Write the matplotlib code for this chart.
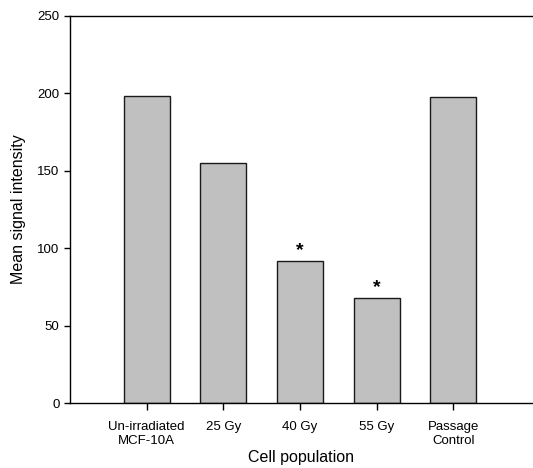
import matplotlib
matplotlib.use("Agg")
import matplotlib.pyplot as plt

plt.rcParams['font.family'] = ['Liberation Sans', 'DejaVu Sans']

categories = ["Un-irradiated\nMCF-10A", "25 Gy", "40 Gy", "55 Gy", "Passage\nControl"]
values = [198.5, 155, 92, 68, 197.5]
significant = [False, False, True, True, False]
yticks = [0, 50, 100, 150, 200, 250]

fig = plt.figure(figsize=(5.33, 4.68), dpi=100)
ax = fig.add_axes([70 / 533, 1 - 403 / 468, 1 - 70 / 533, 387 / 468])

x = list(range(1, len(categories) + 1))
ax.bar(x, values, width=0.6, color="#c0c0c0", edgecolor="#1a1a1a", linewidth=1.0)

for xi, v, s in zip(x, values, significant):
    if s:
        ax.text(xi, v + 1, "*", ha="center", va="bottom", fontsize=14, fontweight="bold")

ax.set_xlim(0, 6.04)
ax.set_ylim(0, 250)
ax.set_yticks(yticks)
ax.set_xticks(x)
ax.set_xticklabels(categories, fontsize=9.5)
ax.tick_params(axis="y", labelsize=9.5, direction="out", length=4, width=1)
ax.tick_params(axis="x", direction="out", length=5, width=1, pad=8)
ax.spines["right"].set_visible(False)
for sp in ["left", "bottom", "top"]:
    ax.spines[sp].set_linewidth(1)

ax.set_xlabel("Cell population", fontsize=11.5, labelpad=2)
ax.set_ylabel("Mean signal intensity", fontsize=11.5, labelpad=8)

fig.savefig("out.png", dpi=100)
